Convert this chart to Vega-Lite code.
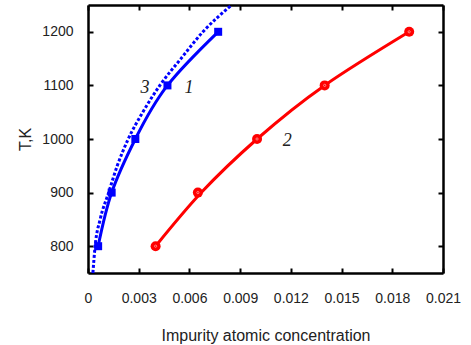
{
  "$schema": "https://vega.github.io/schema/vega-lite/v6.json",
  "width": 355,
  "height": 268,
  "autosize": "none",
  "padding": {"left": 88, "top": 5, "right": 28, "bottom": 72},
  "background": "white",
  "config": {
    "view": {"stroke": null},
    "axis": {
      "grid": false,
      "domainColor": "black",
      "domainWidth": 2.5,
      "tickColor": "black",
      "tickWidth": 2,
      "tickSize": -5,
      "labelFont": "Liberation Sans",
      "labelFontSize": 14,
      "labelColor": "#222",
      "labelOverlap": false,
      "labelFlush": false,
      "titleFont": "Liberation Sans",
      "titleFontSize": 16,
      "titleFontWeight": "normal",
      "titleColor": "#222"
    }
  },
  "datasets": {
    "blue_pts": [
      {"c": 0.0006, "T": 800},
      {"c": 0.0014, "T": 900},
      {"c": 0.0028, "T": 1000},
      {"c": 0.0047, "T": 1100},
      {"c": 0.0077, "T": 1200}
    ],
    "blue_dotted": [
      {"c": 0.00029, "T": 750},
      {"c": 0.00042, "T": 800},
      {"c": 0.00072, "T": 850},
      {"c": 0.00122, "T": 900},
      {"c": 0.00173, "T": 950},
      {"c": 0.00238, "T": 1000},
      {"c": 0.00324, "T": 1050},
      {"c": 0.00425, "T": 1100},
      {"c": 0.0055, "T": 1150},
      {"c": 0.0068, "T": 1200},
      {"c": 0.0085, "T": 1250}
    ],
    "red_pts": [
      {"c": 0.0040, "T": 800},
      {"c": 0.0065, "T": 900},
      {"c": 0.0100, "T": 1000},
      {"c": 0.0140, "T": 1100},
      {"c": 0.0190, "T": 1200}
    ],
    "red_fit": [
      {"c": 0.0040, "T": 800},
      {"c": 0.0067, "T": 900},
      {"c": 0.0100, "T": 1000},
      {"c": 0.0140, "T": 1100},
      {"c": 0.0190, "T": 1200}
    ],
    "labels": [
      {"c": 0.00337, "T": 1096, "label": "3"},
      {"c": 0.00597, "T": 1096, "label": "1"},
      {"c": 0.01179, "T": 996, "label": "2"}
    ]
  },
  "encoding": {
    "x": {"field": "c", "type": "quantitative", "scale": {"domain": [0, 0.021], "nice": false, "zero": false}, "axis": null},
    "y": {"field": "T", "type": "quantitative", "scale": {"domain": [750, 1250], "nice": false, "zero": false}, "axis": null}
  },
  "layer": [
    {
      "data": {"name": "blue_pts"},
      "mark": {"type": "line", "color": "#0000ff", "strokeWidth": 3, "interpolate": "natural"},
      "encoding": {
        "x": {
          "field": "c", "type": "quantitative",
          "scale": {"domain": [0, 0.021], "nice": false, "zero": false},
          "axis": {
            "orient": "bottom",
            "values": [0, 0.003, 0.006, 0.009, 0.012, 0.015, 0.018, 0.021],
            "labelExpr": "datum.value == 0 ? '0' : format(datum.value, '.3f')",
            "labelPadding": 23,
            "title": "Impurity atomic concentration",
            "titlePadding": 22
          }
        },
        "y": {
          "field": "T", "type": "quantitative",
          "scale": {"domain": [750, 1250], "nice": false, "zero": false},
          "axis": {
            "orient": "left",
            "values": [800, 900, 1000, 1100, 1200],
            "format": "d",
            "labelPadding": 20,
            "title": "T,K",
            "titlePadding": 8
          }
        }
      }
    },
    {
      "data": {"name": "blue_dotted"},
      "mark": {"type": "line", "color": "#0000ff", "strokeWidth": 3, "strokeDash": [3, 2], "interpolate": "monotone", "clip": true},
      "encoding": {
        "x": {
          "field": "c", "type": "quantitative",
          "scale": {"domain": [0, 0.021], "nice": false, "zero": false},
          "axis": {
            "orient": "top",
            "values": [0, 0.003, 0.006, 0.009, 0.012, 0.015, 0.018, 0.021],
            "labels": false,
            "title": null
          }
        },
        "y": {
          "field": "T", "type": "quantitative",
          "scale": {"domain": [750, 1250], "nice": false, "zero": false},
          "axis": {
            "orient": "right",
            "values": [800, 900, 1000, 1100, 1200],
            "labels": false,
            "title": null
          }
        }
      }
    },
    {
      "data": {"name": "blue_pts"},
      "mark": {"type": "point", "shape": "square", "filled": true, "color": "#0000ff", "size": 64, "opacity": 1}
    },
    {
      "data": {"name": "red_fit"},
      "mark": {"type": "line", "color": "#ff0000", "strokeWidth": 3, "interpolate": "natural"}
    },
    {
      "data": {"name": "red_pts"},
      "mark": {"type": "point", "shape": "circle", "filled": true, "color": "#ff0000", "size": 100, "opacity": 1}
    },
    {
      "data": {"name": "red_pts"},
      "mark": {"type": "point", "shape": "circle", "filled": false, "stroke": "#ffb0b0", "strokeWidth": 0.7, "size": 5, "opacity": 1}
    },
    {
      "data": {"name": "labels"},
      "mark": {"type": "text", "font": "Liberation Serif", "fontStyle": "italic", "fontSize": 18, "color": "#222", "align": "center", "baseline": "middle"},
      "encoding": {"text": {"field": "label"}}
    }
  ],
  "resolve": {"axis": {"x": "independent", "y": "independent"}}
}
